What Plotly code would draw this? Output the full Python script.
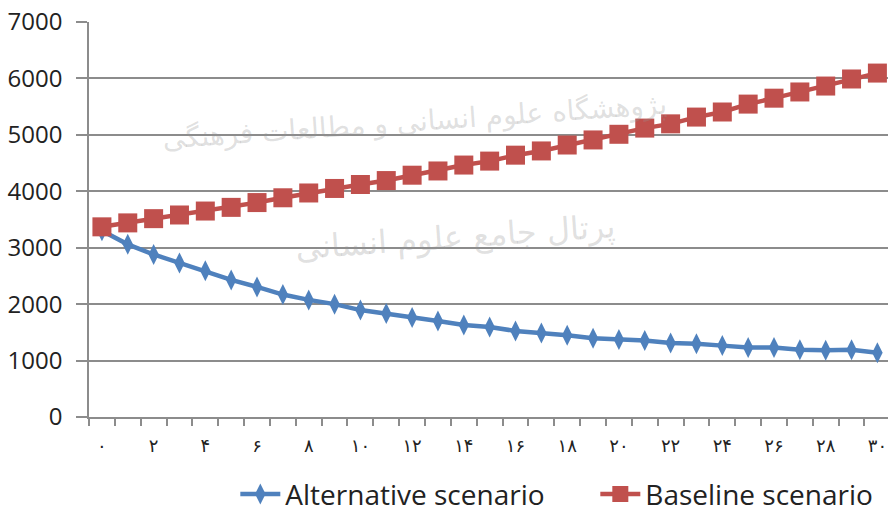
import plotly.graph_objects as go

# Period index 0..30 and Persian-digit tick labels (every second period)
periods = list(range(31))
tick_positions = list(range(0, 31, 2))
tick_labels = ["۰", "۲", "۴", "۶", "۸", "۱۰", "۱۲", "۱۴", "۱۶", "۱۸",
               "۲۰", "۲۲", "۲۴", "۲۶", "۲۸", "۳۰"]

alternative = [3300, 3060, 2880, 2730, 2590, 2430, 2305, 2170, 2075, 2000,
               1895, 1835, 1765, 1700, 1630, 1595, 1525, 1490, 1450, 1395,
               1375, 1355, 1310, 1300, 1265, 1230, 1230, 1190, 1185, 1190,
               1140]
baseline = [3370, 3440, 3515, 3580, 3650, 3715, 3800, 3885, 3970, 4050,
            4120, 4190, 4285, 4360, 4465, 4535, 4640, 4715, 4820, 4910,
            5010, 5120, 5195, 5315, 5405, 5545, 5650, 5760, 5865, 5990,
            6095]

BLUE = "#4F81BD"
RED = "#C0504D"
GRID = "#8c8c8c"

fig = go.Figure()
fig.add_trace(go.Scatter(
    x=periods, y=alternative, mode="lines+markers", name="Alternative scenario",
    line=dict(color=BLUE, width=4.5),
    marker=dict(symbol="diamond-tall", size=15, color=BLUE),
))
fig.add_trace(go.Scatter(
    x=periods, y=baseline, mode="lines+markers", name="Baseline scenario",
    line=dict(color=RED, width=4.5),
    marker=dict(symbol="square", size=19, color=RED),
))

# Faint institutional watermark lettering
fig.add_annotation(text="پژوهشگاه علوم انسانی و مطالعات فرهنگی",
                   xref="paper", yref="paper", x=0.408, y=0.84,
                   showarrow=False, textangle=-4,
                   font=dict(family="DejaVu Sans", size=28,
                             color="rgba(150,150,150,0.3)"))
fig.add_annotation(text="پرتال جامع علوم انسانی",
                   xref="paper", yref="paper", x=0.458, y=0.456,
                   showarrow=False, textangle=-4,
                   font=dict(family="DejaVu Sans", size=32,
                             color="rgba(150,150,150,0.3)"))

fig.update_layout(
    width=888, height=515,
    margin=dict(l=89, r=0, t=22, b=98),
    paper_bgcolor="white", plot_bgcolor="white",
    font=dict(family="Open Sans", color="#222222"),
    showlegend=True,
    legend=dict(orientation="h", xref="container", yref="container",
                x=0.265, xanchor="left", y=0.04, yanchor="middle",
                font=dict(size=28, color="#222222"), itemwidth=40,
                entrywidth=305, bgcolor="rgba(0,0,0,0)", borderwidth=0),
)

fig.update_xaxes(
    range=[-0.5, 30.41], tickmode="array", tickvals=tick_positions,
    ticktext=tick_labels, ticks="", showgrid=False, zeroline=False,
    showline=True, linecolor=GRID, linewidth=1.5,
    tickfont=dict(family="DejaVu Sans", size=18, color="#222222"),
    ticklabelstandoff=12, ticklabeloverflow="allow",
    minor=dict(tickmode="array", tickvals=[k - 0.5 for k in range(32)],
               ticks="outside", ticklen=7, tickcolor=GRID, tickwidth=1.5,
               showgrid=False),
)
fig.update_yaxes(
    range=[0, 7000], dtick=1000, showgrid=True, gridcolor=GRID, gridwidth=1.5,
    zeroline=False, showline=True, linecolor=GRID, linewidth=1.5,
    ticks="outside", ticklen=11, tickcolor=GRID, tickwidth=1.5,
    tickfont=dict(size=24, color="#222222"), ticklabelstandoff=9,
)

fig.write_html("out.html")
